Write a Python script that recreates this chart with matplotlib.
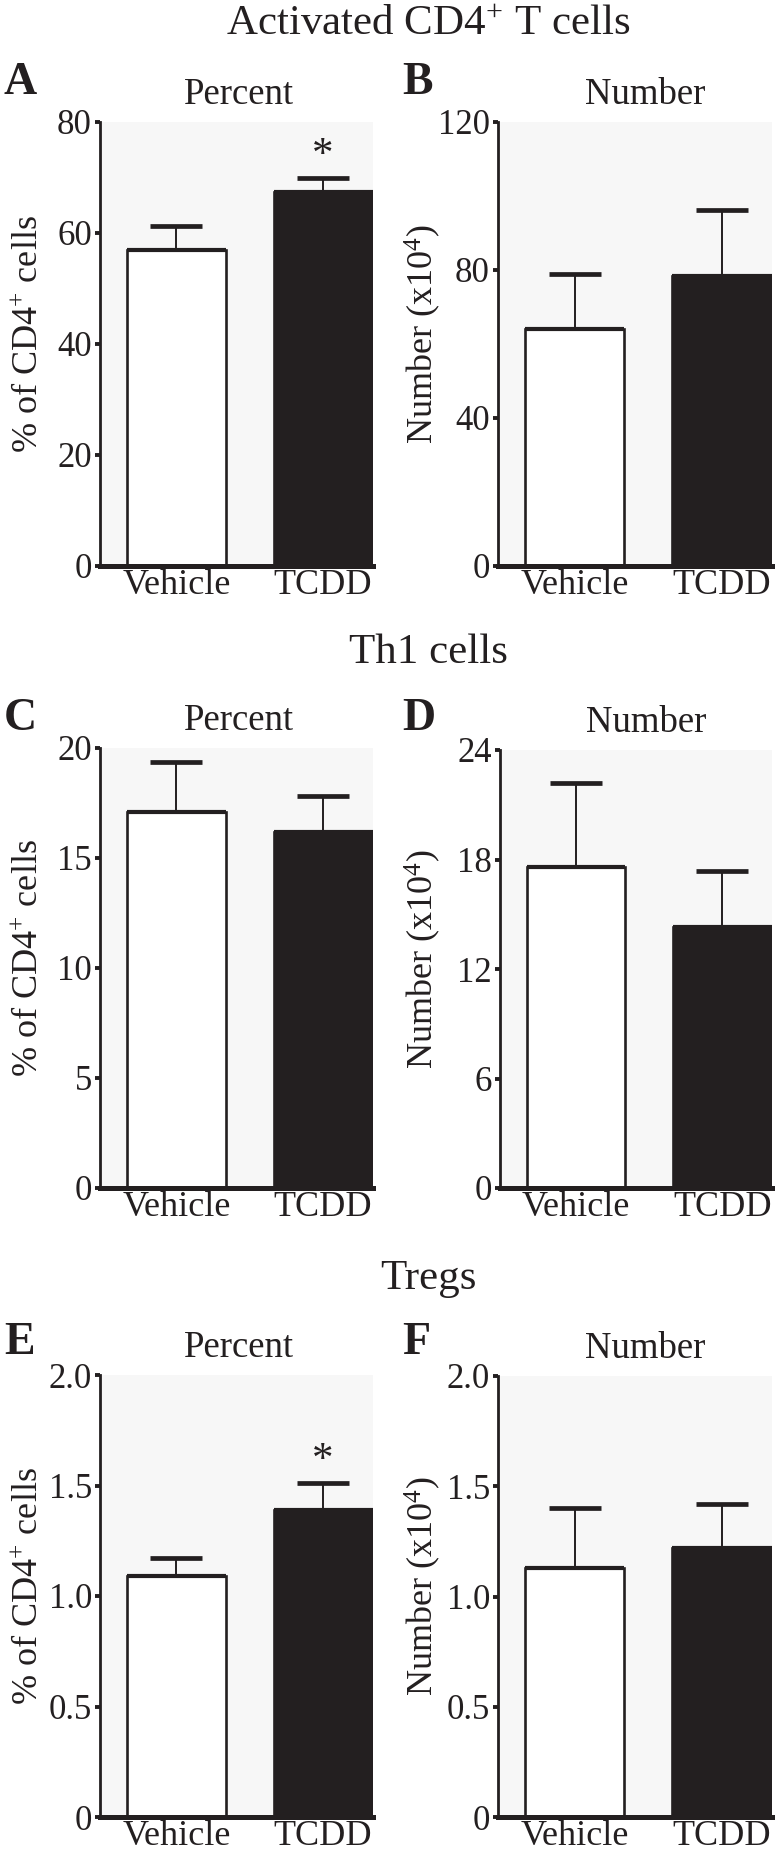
import matplotlib
matplotlib.use('Agg')
import matplotlib.pyplot as plt
import numpy as np

plt.rcParams['font.family'] = ['Liberation Serif', 'DejaVu Serif']
plt.rcParams['mathtext.fontset'] = 'custom'
plt.rcParams['mathtext.rm'] = 'Liberation Serif'
plt.rcParams['mathtext.it'] = 'Liberation Serif:italic'
plt.rcParams['mathtext.bf'] = 'Liberation Serif:bold'

# ---------------- data ----------------
groups = ['Vehicle', 'TCDD']

act_pct_mean = [56.9, 67.3]
act_pct_sem = [4.3, 2.6]
act_num_mean = [64.0, 78.5]
act_num_sem = [15.0, 17.7]

th1_pct_mean = [17.1, 16.2]
th1_pct_sem = [2.26, 1.62]
th1_num_mean = [17.6, 14.3]
th1_num_sem = [4.6, 3.05]

treg_pct_mean = [1.09, 1.39]
treg_pct_sem = [0.08, 0.12]
treg_num_mean = [1.13, 1.22]
treg_num_sem = [0.27, 0.20]

act_pct_ticks = [0, 20, 40, 60, 80]
act_num_ticks = [0, 40, 80, 120]
th1_pct_ticks = [0, 5, 10, 15, 20]
th1_num_ticks = [0, 6, 12, 18, 24]
treg_ticks = [0, 0.5, 1.0, 1.5, 2.0]
treg_tick_labels = ['0', '0.5', '1.0', '1.5', '2.0']

section_titles = ['Activated CD4$^{+}$ T cells', 'Th1 cells', 'Tregs']
panel_letters = ['A', 'B', 'C', 'D', 'E', 'F']
sub_titles = ['Percent', 'Number']
ylabel_pct = '% of CD4$^{+}$ cells'
ylabel_num = 'Number (x10$^{4}$)'
significant = [[False, True], [False, False], [False, False], [False, False],
               [False, True], [False, False]]

# ---------------- layout ----------------
W, H = 775, 1866
DPI = 100
BLACK = '#231f20'
BG = '#f7f7f7'

fig = plt.figure(figsize=(W / DPI, H / DPI), dpi=DPI)
fig.patch.set_facecolor('white')


def rect(l, r, t, b):
    return [l / W, 1 - b / H, (r - l) / W, (b - t) / H]


def ftext(x, y, s, **kw):
    fig.text(x / W, 1 - y / H, s, **kw)


panels = [
    (act_pct_mean, act_pct_sem, act_pct_ticks, None, (100, 373, 122, 566)),
    (act_num_mean, act_num_sem, act_num_ticks, None, (498, 772, 122, 566)),
    (th1_pct_mean, th1_pct_sem, th1_pct_ticks, None, (100, 373, 748, 1188)),
    (th1_num_mean, th1_num_sem, th1_num_ticks, None, (500, 772, 750, 1188)),
    (treg_pct_mean, treg_pct_sem, treg_ticks, treg_tick_labels, (100, 373, 1375, 1817)),
    (treg_num_mean, treg_num_sem, treg_ticks, treg_tick_labels, (498, 772, 1376, 1817)),
]
letter_y = [83, 83, 719, 719, 1343, 1343]

xpos = np.arange(len(groups))
bar_w = 0.675

for i, (means, sems, ticks, tlabels, (l, r, t, b)) in enumerate(panels):
    ax = fig.add_axes(rect(l, r, t, b))
    ax.set_facecolor(BG)
    ax.bar(xpos, means, width=bar_w, color=['white', BLACK], edgecolor=BLACK,
           linewidth=1.9, zorder=2)
    ax.hlines(means, xpos - bar_w / 2, xpos + bar_w / 2, color=BLACK,
              linewidth=3.0, zorder=2.2)
    eb = ax.errorbar(xpos, means, yerr=[np.zeros(len(means)), sems], fmt='none',
                     ecolor=BLACK, elinewidth=1.4, capsize=18.5, capthick=3.4,
                     zorder=3)
    caps = eb.lines[1]
    if len(caps) >= 1:
        caps[0].set_visible(False)
    for j, sig in enumerate(significant[i]):
        if sig:
            ax.annotate('*', xy=(xpos[j], means[j] + sems[j]), xytext=(0, 16),
                        textcoords='offset points', ha='center', va='center',
                        fontsize=31, color=BLACK)
    ax.set_xlim(-0.52, 1.34)
    ax.set_ylim(ticks[0], ticks[-1])
    ax.set_yticks(ticks)
    if tlabels is not None:
        ax.set_yticklabels(tlabels)
    ax.set_xticks(xpos)
    ax.set_xticklabels(groups, fontsize=26)
    ax.tick_params(axis='x', length=0, pad=2, colors=BLACK)
    ax.tick_params(axis='y', length=3.8, width=2.8, direction='out', pad=2,
                   labelsize=25, colors=BLACK)
    for s in ['top', 'right']:
        ax.spines[s].set_visible(False)
    ax.spines['left'].set_linewidth(2.0)
    ax.spines['left'].set_color(BLACK)
    ax.spines['bottom'].set_linewidth(3.6)
    ax.spines['bottom'].set_color(BLACK)
    ax.spines['bottom'].set_zorder(4)

    # panel letter, subtitle, y label
    col = i % 2
    cx = (l + r) / 2
    ftext(4 if col == 0 else 402, letter_y[i], panel_letters[i], fontsize=33,
          fontweight='bold', ha='left', va='center', color=BLACK)
    ftext(cx + (3 if col == 0 else 10), t - 27, sub_titles[col], fontsize=26.5,
          ha='center', va='center', color=BLACK)
    ftext(29 if col == 0 else 423, (t + b) / 2 - 10,
          ylabel_pct if col == 0 else ylabel_num, fontsize=26, rotation=90,
          ha='center', va='center', color=BLACK)

# section titles
for title, y in zip(section_titles, [25, 653, 1279]):
    ftext(428, y, title, fontsize=31, ha='center', va='center', color=BLACK)

fig.savefig('out.png', dpi=DPI, facecolor='white')
